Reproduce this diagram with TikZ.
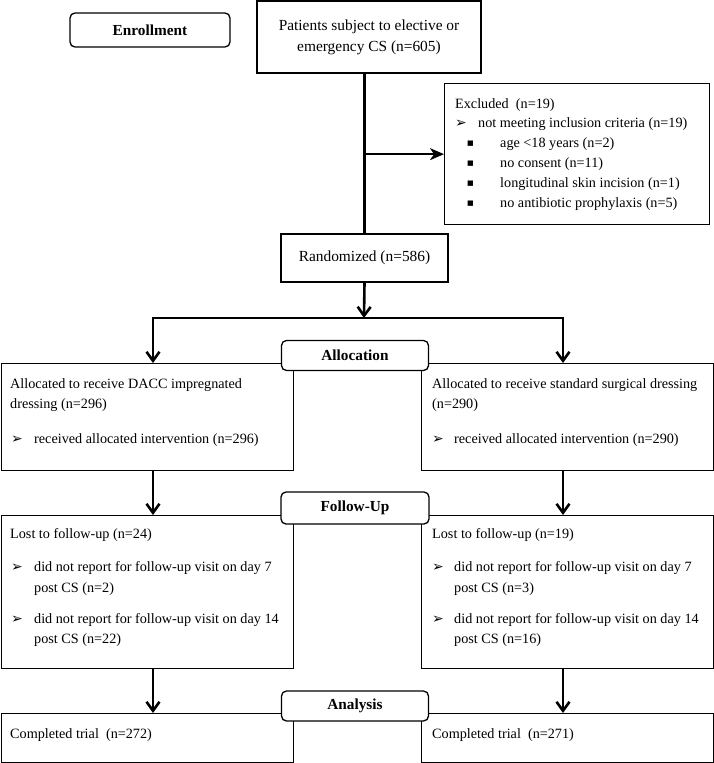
\documentclass[tikz,border=0pt]{standalone}
\usepackage{fontspec}
\setmainfont{Liberation Serif}
\newfontfamily\symf{DejaVu Sans}
\usetikzlibrary{arrows.meta}
\newcommand\arrbul{{\symf\fontsize{14}{14}\selectfont ➢}}
\newcommand\sqbul{{\symf\fontsize{7}{8}\selectfont ■}}
\begin{document}
\begin{tikzpicture}[x=1pt,y=-1pt,
  box/.style={draw, line width=1.3pt, inner sep=0, anchor=north west},
  cbox/.style={draw, line width=1.3pt, inner sep=0, align=center, font=\fontsize{15.4}{21}\selectfont},
  stage/.style={draw, line width=1.3pt, rounded corners=5pt, fill=white, font=\fontsize{15.3}{18}\selectfont\bfseries, inner sep=0},
  txt/.style={anchor=base west, inner sep=0, font=\fontsize{14.2}{17}\selectfont},
  bul/.style={anchor=base west, inner sep=0},
  flow/.style={line width=2.6pt},
  arr/.style={line width=2.6pt, -{Straight Barb[length=9pt,width=13pt]}},
  sarr/.style={line width=1.4pt, -{Stealth[length=14pt,width=12pt,inset=4pt]}},
]
\useasboundingbox (0,0) rectangle (714,763);

% ---------- boxes ----------
\node[cbox, minimum width=224pt, minimum height=72pt] (patients) at (369,37) {Patients subject to elective or\\emergency CS (n=605)};
\node[box, minimum width=265pt, minimum height=141pt] (excluded) at (444,83) {};
\node[cbox, minimum width=167pt, minimum height=48pt] (random) at (364.5,258) {Randomized (n=586)};

\node[box, minimum width=292pt, minimum height=107pt] (allocL) at (0.7,363) {};
\node[box, minimum width=292pt, minimum height=107pt] (allocR) at (421,363) {};
\node[box, minimum width=292pt, minimum height=153pt] (fuL) at (0.7,515) {};
\node[box, minimum width=292pt, minimum height=153pt] (fuR) at (421,515) {};
\node[box, minimum width=292pt, minimum height=49pt] (compL) at (0.7,713) {};
\node[box, minimum width=292pt, minimum height=49pt] (compR) at (421,713) {};

% ---------- stage labels ----------
\node[stage, minimum width=160pt, minimum height=34pt] (enroll) at (150,30) {Enrollment};
\node[stage, minimum width=147pt, minimum height=30pt] (allocation) at (355,355.5) {Allocation};
\node[stage, minimum width=148pt, minimum height=32pt] (followup) at (355,508) {Follow-Up};
\node[stage, minimum width=147pt, minimum height=30pt] (analysis) at (355,706) {Analysis};

% ---------- excluded texts ----------
\node[txt] (ex1) at (455,108) {Excluded\ \ (n=19)};
\node[bul] (ex2b) at (455,127) {\arrbul};
\node[txt] (ex2) at (478,127) {not meeting inclusion criteria (n=19)};
\node[bul] (ex3b) at (467,145) {\sqbul};
\node[txt] (ex3) at (500,147) {age <18 years (n=2)};
\node[bul] (ex4b) at (467,165) {\sqbul};
\node[txt] (ex4) at (500,167) {no consent (n=11)};
\node[bul] (ex5b) at (467,185) {\sqbul};
\node[txt] (ex5) at (500,187) {longitudinal skin incision (n=1)};
\node[bul] (ex6b) at (467,205) {\sqbul};
\node[txt] (ex6) at (500,207) {no antibiotic prophylaxis (n=5)};

% ---------- allocation texts ----------
\node[txt] (al1) at (10,388) {Allocated to receive DACC impregnated};
\node[txt] (al2) at (10,408) {dressing (n=296)};
\node[bul] (al3b) at (11,443) {\arrbul};
\node[txt] (al3) at (34,443) {received allocated intervention (n=296)};

\node[txt] (ar1) at (432,388) {Allocated to receive standard surgical dressing};
\node[txt] (ar2) at (432,408) {(n=290)};
\node[bul] (ar3b) at (432,443) {\arrbul};
\node[txt] (ar3) at (454,443) {received allocated intervention (n=290)};

% ---------- follow-up texts ----------
\node[txt] (fl1) at (10,538) {Lost to follow-up (n=24)};
\node[bul] (fl2b) at (11,571) {\arrbul};
\node[txt] (fl2) at (34,571) {did not report for follow-up visit on day 7};
\node[txt] (fl3) at (34,592) {post CS (n=2)};
\node[bul] (fl4b) at (11,623) {\arrbul};
\node[txt] (fl4) at (34,623) {did not report for follow-up visit on day 14};
\node[txt] (fl5) at (34,643) {post CS (n=22)};

\node[txt] (fr1) at (432,538) {Lost to follow-up (n=19)};
\node[bul] (fr2b) at (432,571) {\arrbul};
\node[txt] (fr2) at (454,571) {did not report for follow-up visit on day 7};
\node[txt] (fr3) at (454,592) {post CS (n=3)};
\node[bul] (fr4b) at (432,623) {\arrbul};
\node[txt] (fr4) at (454,623) {did not report for follow-up visit on day 14};
\node[txt] (fr5) at (454,643) {post CS (n=16)};

% ---------- completed texts ----------
\node[txt] (cl1) at (10,738) {Completed trial\ \ (n=272)};
\node[txt] (cr1) at (432,738) {Completed trial\ \ (n=271)};

% ---------- connectors ----------
\coordinate (exsplit) at (random.north |- excluded.west);
\coordinate (split) at (364,318);
\coordinate (splitL) at (153,318);
\coordinate (splitR) at (563,318);
\draw[flow] (patients.south -| random.north) -- (random.north);
\draw[sarr] (exsplit) -- (excluded.west);
\draw[arr] (random.south) -- (split);
\draw[flow, line cap=rect] (splitL) -- (splitR);
\draw[arr] (splitL) -- (splitL |- allocL.north);
\draw[arr] (splitR) -- (splitR |- allocR.north);
\draw[arr] (allocL.south -| splitL) -- (fuL.north -| splitL);
\draw[arr] (allocR.south -| splitR) -- (fuR.north -| splitR);
\draw[arr] (fuL.south -| splitL) -- (compL.north -| splitL);
\draw[arr] (fuR.south -| splitR) -- (compR.north -| splitR);
\end{tikzpicture}
\end{document}
